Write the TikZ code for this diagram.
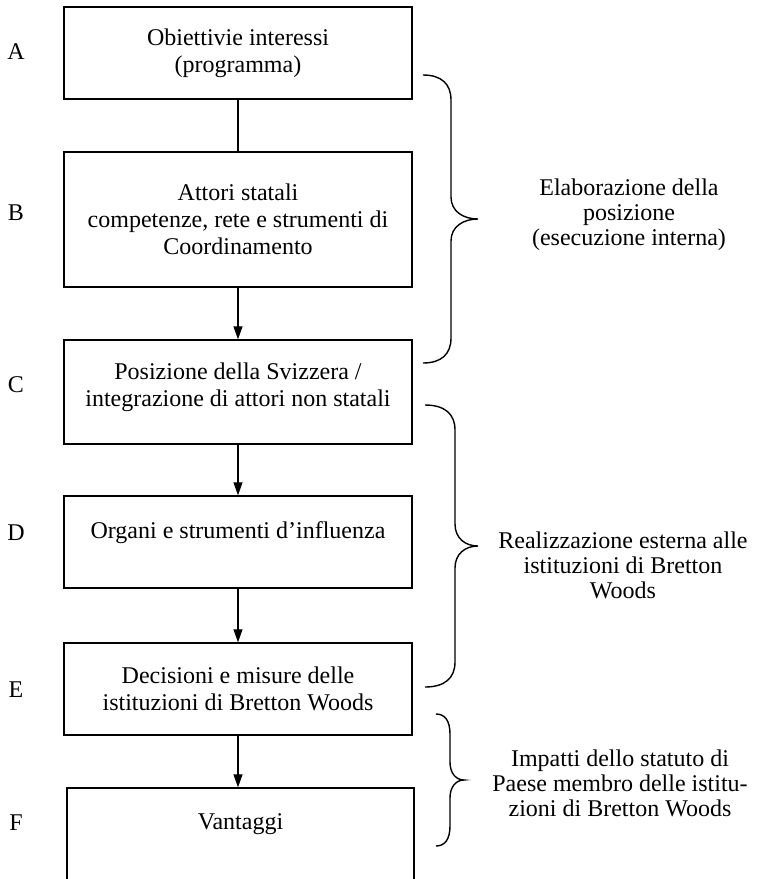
\documentclass[tikz,border=0pt]{standalone}
\usepackage{fontspec}
\setmainfont{Liberation Serif}
\usetikzlibrary{arrows.meta}
\newcommand\bracepath[7]{% xend, xvert, xtip, ytop, ybot, endlen, tiplen
  \draw[bracestyle] (#1,#4) .. controls ({#2-0.35*(#2-#1)},#4) and (#2,{#4+0.35*#6}) .. (#2,{#4+#6})
    -- (#2,{(#4+#5)/2-#7}) .. controls (#2,{(#4+#5)/2-0.35*#7}) and ({#3-0.55*(#3-#2)},{(#4+#5)/2}) .. (#3,{(#4+#5)/2})
    .. controls ({#3-0.55*(#3-#2)},{(#4+#5)/2}) and (#2,{(#4+#5)/2+0.35*#7}) .. (#2,{(#4+#5)/2+#7})
    -- (#2,{#5-#6}) .. controls (#2,{#5-0.35*#6}) and ({#2-0.35*(#2-#1)},#5) .. (#1,#5);}
\begin{document}
\begin{tikzpicture}[x=1pt,y=-1pt,
  txt/.style={font=\fontsize{24}{27}\selectfont},
  box/.style={txt, draw, line width=1.4pt, minimum width=348pt, align=center, inner sep=0pt},
  lab/.style={txt},
  side/.style={font=\fontsize{24}{25}\selectfont, align=center, inner sep=0pt},
  conn/.style={line width=1.2pt},
  arr/.style={conn, -{Triangle[width=9pt,length=13pt]}},
  bracestyle/.style={line width=1.4pt}]
\useasboundingbox (0,0) rectangle (761,879);
% boxes
\node[box, minimum height=92pt] (A) at (238,53) {Obiettivie interessi\\(programma)};
\node[box, minimum height=135pt] (B) at (238,219.5) {Attori statali\\competenze, rete e strumenti di\\Coordinamento};
\node[box, minimum height=104pt, text depth=15pt] (C) at (238,392) {Posizione della Svizzera /\\integrazione di attori non statali};
\node[box, minimum height=92pt, text depth=23pt] (D) at (238,542) {Organi e strumenti d’influenza};
\node[box, minimum height=92pt] (E) at (238,689) {Decisioni e misure delle\\istituzioni di Bretton Woods};
\node[box, minimum width=347pt, minimum height=94pt, text depth=27pt] (F) at (240.5,835) {Vantaggi};
% letters
\node[lab] (lA) at (16,52) {A};
\node[lab] (lB) at (16,213) {B};
\node[lab] (lC) at (16,385) {C};
\node[lab] (lD) at (16,533) {D};
\node[lab] (lE) at (16,690) {E};
\node[lab] (lF) at (16,823) {F};
% connectors
\draw[conn] (A.south) -- (B.north);
\draw[arr] (B.south) -- (C.north);
\draw[arr] (C.south) -- (D.north);
\draw[arr] (D.south) -- (E.north);
\draw[arr] (E.south) -- (E.south |- F.north);
% braces
\bracepath{423}{451}{478}{75}{363}{25}{22}
\bracepath{425}{455}{478}{405}{687}{25}{22}
\bracepath{436}{450}{464}{714}{846}{20}{18}
% brace texts
\node[side] (t1) at (629,215) {Elaborazione della\\posizione\\(esecuzione interna)};
\node[side] (t2) at (623,565) {Realizzazione esterna alle\\istituzioni di Bretton\\Woods};
\node[side] (t3) at (620,783) {Impatti dello statuto di\\Paese membro delle istitu-\\zioni di Bretton Woods};
\end{tikzpicture}
\end{document}
